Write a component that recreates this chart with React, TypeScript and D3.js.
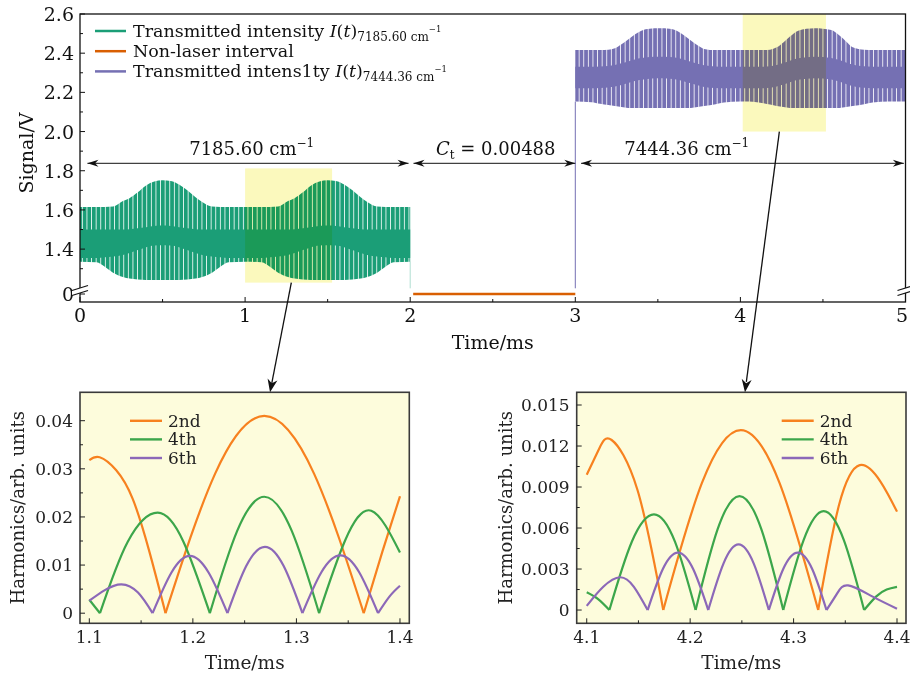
import React from 'react';
import * as d3 from 'd3';

const FONT = '"DejaVu Serif", serif';

// ---------------- Top panel data ----------------
const topXTicks = [0, 1, 2, 3, 4, 5];
const topXMinor = [0.5, 1.5, 2.5, 3.5, 4.5];
const topYTicks = [0, 1.4, 1.6, 1.8, 2.0, 2.2, 2.4, 2.6];
const topYTickLabels = ['0', '1.4', '1.6', '1.8', '2.0', '2.2', '2.4', '2.6'];
const topYMinor = [1.3, 1.5, 1.7, 1.9, 2.1, 2.3, 2.5];

// Transmitted intensity at 7185.60 cm-1 (envelopes of the fast modulation)
const greenTime = [0, 0.1, 0.15, 0.2, 0.26, 0.3, 0.35, 0.4, 0.45, 0.5, 0.55, 0.6, 0.65, 0.7, 0.74, 0.8, 0.85, 0.9, 1.0,
  1.1, 1.15, 1.2, 1.26, 1.3, 1.35, 1.4, 1.45, 1.5, 1.55, 1.6, 1.65, 1.7, 1.74, 1.8, 1.85, 1.9, 2.0];
const greenOuterTop = [1.615, 1.615, 1.615, 1.617, 1.645, 1.66, 1.69, 1.725, 1.745, 1.752, 1.748, 1.73, 1.70, 1.665, 1.64, 1.617, 1.615, 1.615, 1.615,
  1.615, 1.615, 1.617, 1.645, 1.66, 1.69, 1.725, 1.745, 1.752, 1.748, 1.73, 1.70, 1.665, 1.64, 1.617, 1.615, 1.615, 1.615];
const greenCoreTop = [1.5, 1.5, 1.5, 1.5, 1.5, 1.502, 1.506, 1.512, 1.518, 1.52, 1.518, 1.512, 1.506, 1.502, 1.5, 1.5, 1.5, 1.5, 1.5,
  1.5, 1.5, 1.5, 1.5, 1.502, 1.506, 1.512, 1.518, 1.52, 1.518, 1.512, 1.506, 1.502, 1.5, 1.5, 1.5, 1.5, 1.5];
const greenCoreBottom = [1.355, 1.355, 1.358, 1.362, 1.37, 1.38, 1.395, 1.41, 1.418, 1.42, 1.418, 1.41, 1.395, 1.38, 1.37, 1.362, 1.358, 1.355, 1.355,
  1.355, 1.358, 1.362, 1.37, 1.38, 1.395, 1.41, 1.418, 1.42, 1.418, 1.41, 1.395, 1.38, 1.37, 1.362, 1.358, 1.355, 1.355];
const greenOuterBottom = [1.336, 1.333, 1.31, 1.28, 1.258, 1.25, 1.245, 1.243, 1.243, 1.243, 1.243, 1.243, 1.245, 1.25, 1.258, 1.28, 1.31, 1.333, 1.336,
  1.333, 1.31, 1.28, 1.258, 1.25, 1.245, 1.243, 1.243, 1.243, 1.243, 1.243, 1.245, 1.25, 1.258, 1.28, 1.31, 1.333, 1.336];

// Transmitted intensity at 7444.36 cm-1
const purpleTime = [3.0, 3.1, 3.15, 3.2, 3.24, 3.28, 3.32, 3.36, 3.4, 3.45, 3.51, 3.57, 3.62, 3.66, 3.7, 3.74, 3.78, 3.85, 3.9,
  4.0, 4.05, 4.1, 4.14, 4.18, 4.22, 4.26, 4.3, 4.35, 4.45, 4.55, 4.6, 4.64, 4.68, 4.75, 4.8, 4.9, 5.0];
const purpleOuterTop = [2.416, 2.416, 2.416, 2.418, 2.425, 2.445, 2.47, 2.495, 2.515, 2.525, 2.527, 2.525, 2.512, 2.49, 2.465, 2.44, 2.422, 2.416, 2.416,
  2.416, 2.416, 2.416, 2.416, 2.418, 2.43, 2.455, 2.485, 2.515, 2.527, 2.518, 2.49, 2.46, 2.43, 2.417, 2.416, 2.416, 2.416];
const purpleCoreTop = [2.331, 2.331, 2.332, 2.335, 2.34, 2.348, 2.358, 2.368, 2.375, 2.38, 2.382, 2.38, 2.375, 2.366, 2.356, 2.346, 2.338, 2.332, 2.331,
  2.331, 2.331, 2.331, 2.331, 2.333, 2.34, 2.35, 2.362, 2.374, 2.382, 2.376, 2.365, 2.353, 2.342, 2.333, 2.331, 2.331, 2.331];
const purpleCoreBottom = [2.221, 2.221, 2.222, 2.225, 2.23, 2.238, 2.248, 2.258, 2.265, 2.27, 2.272, 2.27, 2.265, 2.256, 2.246, 2.236, 2.228, 2.222, 2.221,
  2.221, 2.221, 2.221, 2.221, 2.223, 2.23, 2.24, 2.252, 2.264, 2.272, 2.266, 2.255, 2.243, 2.232, 2.223, 2.221, 2.221, 2.221];
const purpleOuterBottom = [2.153, 2.15, 2.142, 2.135, 2.13, 2.125, 2.12, 2.12, 2.12, 2.12, 2.12, 2.12, 2.12, 2.12, 2.12, 2.125, 2.13, 2.14, 2.148,
  2.153, 2.153, 2.15, 2.145, 2.138, 2.13, 2.125, 2.12, 2.12, 2.12, 2.12, 2.12, 2.125, 2.13, 2.14, 2.148, 2.153, 2.153];

// Non-laser interval
const orangeTime = [2.018, 3.0];
const orangeValue = [0, 0];

// switching edges
const greenEdge = [[2.0, 1.336], [2.0, 1.2]];
const purpleEdge = [[3.0, 1.2], [3.0, 2.153]];

// dimension arrows
const spanStart = [0.045, 2.02, 3.035];
const spanEnd = [1.99, 3.0, 4.99];
const spanLabelT = [1.04, 2.518, 3.675];
const spanLevel = 1.838;

// highlight boxes [t0, t1, v0, v1]
const greenBox = [1.0, 1.527, 1.229, 1.812];
const purpleBox = [4.014, 4.518, 2.0, 2.6];

// ---------------- Bottom panels data ----------------
const leftXTicks = [1.1, 1.2, 1.3, 1.4];
const leftXMinor = [1.15, 1.25, 1.35];
const leftYTicks = [0, 0.01, 0.02, 0.03, 0.04];
const leftYTickLabels = ['0', '0.01', '0.02', '0.03', '0.04'];
const leftYMinor = [0.005, 0.015, 0.025, 0.035];

const rightXTicks = [4.1, 4.2, 4.3, 4.4];
const rightXMinor = [4.15, 4.25, 4.35];
const rightYTicks = [0, 0.003, 0.006, 0.009, 0.012, 0.015];
const rightYTickLabels = ['0', '0.003', '0.006', '0.009', '0.012', '0.015'];
const rightYMinor = [0.0015, 0.0045, 0.0075, 0.0105, 0.0135];

const harmonicNames = ['2nd', '4th', '6th'];

const left2nd = [[1.100, 0.0318], [1.110, 0.0324], [1.126, 0.0297], [1.142, 0.0237], [1.158, 0.0128], [1.1736, 0],
  [1.2215, 0.029], [1.269, 0.041], [1.317, 0.029], [1.365, 0], [1.383, 0.0128], [1.400, 0.0243]];
const left4th = [[1.100, 0.0028], [1.1103, 0], [1.137, 0.0148], [1.166, 0.0209], [1.191, 0.0148], [1.2164, 0],
  [1.2428, 0.0171], [1.269, 0.0242], [1.2955, 0.0171], [1.3219, 0], [1.347, 0.0151], [1.3723, 0.0213], [1.400, 0.0126]];
const left6th = [[1.100, 0.0026], [1.115, 0.0048], [1.131, 0.0060], [1.147, 0.0043], [1.1611, 0],
  [1.1792, 0.0084], [1.197, 0.0119], [1.2153, 0.0084], [1.2334, 0],
  [1.2515, 0.0098], [1.2696, 0.0138], [1.2877, 0.0098], [1.3058, 0],
  [1.3241, 0.0085], [1.3424, 0.0120], [1.3606, 0.0085], [1.3788, 0], [1.390, 0.0035], [1.400, 0.0057]];

const right2nd = [[4.100, 0.0099], [4.112, 0.0118], [4.1241, 0.01244], [4.149, 0.0088], [4.174, 0],
  [4.2114, 0.0093], [4.249, 0.01317], [4.2864, 0.0093], [4.3238, 0],
  [4.344, 0.0077], [4.364, 0.0106], [4.384, 0.0094], [4.400, 0.0072]];
const right4th = [[4.100, 0.0013], [4.111, 0.0008], [4.1219, 0], [4.1436, 0.0050], [4.165, 0.0070], [4.1853, 0.0050], [4.2053, 0],
  [4.2265, 0.0059], [4.2477, 0.00834], [4.2689, 0.0059], [4.29, 0],
  [4.3096, 0.0051], [4.3291, 0.00724], [4.3487, 0.0051], [4.3682, 0], [4.380, 0.0010], [4.390, 0.0015], [4.400, 0.0017]];
const right6th = [[4.100, 0.0003], [4.116, 0.0017], [4.1322, 0.0024], [4.1456, 0.0017], [4.1589, 0],
  [4.1736, 0.0030], [4.1882, 0.0042], [4.2029, 0.0030], [4.2175, 0],
  [4.2322, 0.0034], [4.2468, 0.0048], [4.2615, 0.0034], [4.2761, 0],
  [4.29, 0.0030], [4.304, 0.0042], [4.318, 0.0030], [4.3318, 0],
  [4.342, 0.0012], [4.3527, 0.0018], [4.376, 0.0010], [4.400, 0.0001]];

// zoom arrows: [t on top axis, t on panel axis]
const leftArrowT = [1.28, 1.2745];
const rightArrowT = [4.236, 4.253];

// ---------------- styles ----------------
const GREEN = '#1b9e77';
const ORANGE = '#d95f02';
const PURPLE = '#7570b3';
const H_COLORS = ['#f7811f', '#3ca64b', '#8c68b8'];
const PANEL_BG = '#fdfcdc';

function splitArches(pts: number[][]) {
  const segs: number[][][] = [];
  let cur: number[][] = [];
  pts.forEach((p) => {
    cur.push(p);
    if (p[1] === 0 && cur.length > 1) {
      segs.push(cur);
      cur = [p];
    }
  });
  if (cur.length > 1) segs.push(cur);
  return segs;
}

function arrowHead(x1: number, y1: number, x2: number, y2: number, len = 11, half = 4) {
  const a = Math.atan2(y2 - y1, x2 - x1);
  const ux = Math.cos(a), uy = Math.sin(a);
  const px = -uy, py = ux;
  const bx = x2 - ux * len, by = y2 - uy * len;
  const nx = x2 - ux * len * 0.7, ny = y2 - uy * len * 0.7;
  return `M${x2},${y2}L${bx + px * half},${by + py * half}L${nx},${ny}L${bx - px * half},${by - py * half}Z`;
}

function HarmPanel(props: {
  x0: number; x1: number; y0: number; y1: number;
  xDomain: number[]; yDomain: number[];
  xTicks: number[]; xMinor: number[]; yTicks: number[]; yLabels: string[]; yMinor: number[];
  series: number[][][]; legendX: number; labelX: number;
}) {
  const { x0, x1, y0, y1 } = props;
  const x = d3.scaleLinear().domain(props.xDomain).range([x0, x1]);
  const y = d3.scaleLinear().domain(props.yDomain).range([y1, y0]);
  const line = d3.line<number[]>().x((d) => x(d[0])).y((d) => y(d[1])).curve(d3.curveNatural);
  return (
    <g>
      <rect x={x0} y={y0} width={x1 - x0} height={y1 - y0} fill={PANEL_BG} />
      {props.series.map((s, i) => (
        <g key={i}>
          {splitArches(s).map((seg, j) => (
            <path key={j} d={line(seg) || ''} fill="none" stroke={H_COLORS[i]} strokeWidth={2.2} strokeLinejoin="round" />
          ))}
        </g>
      ))}
      <rect x={x0} y={y0} width={x1 - x0} height={y1 - y0} fill="none" stroke="#3a3a3a" strokeWidth={1.6} />
      {props.xTicks.map((t, i) => (
        <g key={'xt' + i}>
          <line x1={x(t)} x2={x(t)} y1={y1} y2={y1 - 5} stroke="#222" strokeWidth={1} />
          <text x={x(t)} y={y1 + 20} fontSize={17} textAnchor="middle" fill="#222">{t.toFixed(1)}</text>
        </g>
      ))}
      {props.xMinor.map((t, i) => (
        <line key={'xm' + i} x1={x(t)} x2={x(t)} y1={y1} y2={y1 - 3} stroke="#222" strokeWidth={1} />
      ))}
      {props.yTicks.map((v, i) => (
        <g key={'yt' + i}>
          <line x1={x0} x2={x0 + 5} y1={y(v)} y2={y(v)} stroke="#222" strokeWidth={1} />
          <text x={x0 - 7} y={y(v) + 6} fontSize={17} textAnchor="end" fill="#222">{props.yLabels[i]}</text>
        </g>
      ))}
      {props.yMinor.map((v, i) => (
        <line key={'ym' + i} x1={x0} x2={x0 + 3} y1={y(v)} y2={y(v)} stroke="#222" strokeWidth={1} />
      ))}
      <text x={(x0 + x1) / 2} y={y1 + 46} fontSize={18.5} textAnchor="middle" fill="#222">Time/ms</text>
      <text transform={`translate(${props.labelX},${(y0 + y1) / 2}) rotate(-90)`} fontSize={18} textAnchor="middle" fill="#222">Harmonics/arb. units</text>
      {harmonicNames.map((n, i) => (
        <g key={'lg' + i}>
          <line x1={props.legendX} x2={props.legendX + 32} y1={y0 + 28.5 + i * 18.6} y2={y0 + 28.5 + i * 18.6} stroke={H_COLORS[i]} strokeWidth={2.4} />
          <text x={props.legendX + 38} y={y0 + 34.5 + i * 18.6} fontSize={17} fill="#222">{n}</text>
        </g>
      ))}
    </g>
  );
}

export default function App() {
  const xTop = d3.scaleLinear().domain([0, 5]).range([80, 905.5]);
  const yTop = d3.scaleLinear().domain([0, 1.2, 2.6]).range([294, 288.3, 14]);
  const FRAME_TOP = 14, FRAME_BOTTOM = 302, FRAME_LEFT = 80, FRAME_RIGHT = 905.5;

  const band = (lo: number[], hi: number[], ts: number[]) =>
    d3.area<number>()
      .x((_, i) => xTop(ts[i]))
      .y0((_, i) => yTop(lo[i]))
      .y1((_, i) => yTop(hi[i]))
      .curve(d3.curveMonotoneX)(ts) || '';

  const lineTop = d3.line<number[]>().x((d) => xTop(d[0])).y((d) => yTop(d[1]));

  // bottom panel geometry
  const PT = 392.3, PB = 623.3;
  const L = { x0: 80, x1: 409.3, xd: [1.091, 1.409], yd: [-0.0021, 0.0459] };
  const R = { x0: 576.7, x1: 906, xd: [4.0903, 4.4087], yd: [-0.00097, 0.01593] };
  const xL = d3.scaleLinear().domain(L.xd).range([L.x0, L.x1]);
  const xR = d3.scaleLinear().domain(R.xd).range([R.x0, R.x1]);

  const arrows = [
    { sx: xTop(leftArrowT[0]), sy: yTop(greenBox[2]), ex: xL(leftArrowT[1]), ey: PT },
    { sx: xTop(rightArrowT[0]), sy: yTop(purpleBox[2]), ex: xR(rightArrowT[1]), ey: PT },
  ];

  const breakMark = (cx: number, cy: number) => (
    <g>
      <polygon points={`${cx - 8},${cy + 0.5} ${cx + 8},${cy - 4.5} ${cx + 8},${cy + 0.5} ${cx - 8},${cy + 5.5}`} fill="#fff" />
      <line x1={cx - 8} y1={cy + 0.5} x2={cx + 8} y2={cy - 4.5} stroke="#111" strokeWidth={1.2} />
      <line x1={cx - 8} y1={cy + 5.5} x2={cx + 8} y2={cy + 0.5} stroke="#111" strokeWidth={1.2} />
    </g>
  );

  return (
    <svg width={910} height={675} style={{ position: 'absolute', left: 0, top: 0, background: '#fff' }} fontFamily={FONT}>
      <defs>
        <pattern id="gStripe" patternUnits="userSpaceOnUse" width={4.6} height={400}>
          <rect x={0} y={0} width={3.8} height={400} fill={GREEN} />
        </pattern>
        <pattern id="pStripe" patternUnits="userSpaceOnUse" width={4.6} height={400}>
          <rect x={0} y={0} width={3.8} height={400} fill={PURPLE} />
        </pattern>
      </defs>
      <rect x={0} y={0} width={910} height={675} fill="#fff" />

      {/* ---------- top panel data ---------- */}
      <path d={band(greenOuterBottom, greenOuterTop, greenTime)} fill="url(#gStripe)" />
      <path d={band(greenCoreBottom, greenCoreTop, greenTime)} fill={GREEN} />
      <path d={lineTop(greenEdge) || ''} stroke={GREEN} strokeOpacity={0.35} strokeWidth={1} fill="none" />
      <path d={band(purpleOuterBottom, purpleOuterTop, purpleTime)} fill="url(#pStripe)" />
      <path d={band(purpleCoreBottom, purpleCoreTop, purpleTime)} fill={PURPLE} />
      <path d={lineTop(purpleEdge) || ''} stroke={PURPLE} strokeWidth={1} fill="none" />
      <path d={lineTop(orangeTime.map((t, i) => [t, orangeValue[i]])) || ''} stroke={ORANGE} strokeWidth={2.5} fill="none" />

      {/* highlight boxes */}
      {[greenBox, purpleBox].map((b, i) => (
        <rect key={i} x={xTop(b[0])} y={yTop(b[3])} width={xTop(b[1]) - xTop(b[0])} height={yTop(b[2]) - yTop(b[3])}
          fill="#fbf9bd" style={{ mixBlendMode: 'multiply' }} />
      ))}

      {/* frame */}
      <rect x={FRAME_LEFT} y={FRAME_TOP} width={FRAME_RIGHT - FRAME_LEFT} height={FRAME_BOTTOM - FRAME_TOP} fill="none" stroke="#111" strokeWidth={1.3} />
      {topXTicks.map((t, i) => (
        <g key={'tx' + i}>
          <line x1={xTop(t)} x2={xTop(t)} y1={FRAME_BOTTOM} y2={FRAME_BOTTOM - 5} stroke="#111" />
          <text x={Math.min(xTop(t), 902)} y={FRAME_BOTTOM + 20} fontSize={19} textAnchor="middle" fill="#111">{t}</text>
        </g>
      ))}
      {topXMinor.map((t, i) => (
        <line key={'txm' + i} x1={xTop(t)} x2={xTop(t)} y1={FRAME_BOTTOM} y2={FRAME_BOTTOM - 3} stroke="#111" />
      ))}
      {topYTicks.map((v, i) => (
        <g key={'ty' + i}>
          <line x1={FRAME_LEFT} x2={FRAME_LEFT + 5} y1={yTop(v)} y2={yTop(v)} stroke="#111" />
          <text x={FRAME_LEFT - 6} y={yTop(v) + 7} fontSize={19} textAnchor="end" fill="#111">{topYTickLabels[i]}</text>
        </g>
      ))}
      {topYMinor.map((v, i) => (
        <line key={'tym' + i} x1={FRAME_LEFT} x2={FRAME_LEFT + 3} y1={yTop(v)} y2={yTop(v)} stroke="#111" />
      ))}
      {breakMark(FRAME_LEFT, 290)}
      {breakMark(FRAME_RIGHT, 290)}

      <text x={(FRAME_LEFT + FRAME_RIGHT) / 2} y={FRAME_BOTTOM + 47} fontSize={19} textAnchor="middle" fill="#111">Time/ms</text>
      <text transform={`translate(33,153) rotate(-90)`} fontSize={19} textAnchor="middle" fill="#111">Signal/V</text>

      {/* legend */}
      {[GREEN, ORANGE, PURPLE].map((c, i) => (
        <line key={'ll' + i} x1={95} x2={126} y1={31 + i * 20.2} y2={31 + i * 20.2} stroke={c} strokeWidth={2.5} />
      ))}
      <text x={133} y={37} fontSize={17.5} fill="#111">
        Transmitted intensity <tspan fontStyle="italic">I</tspan>(<tspan fontStyle="italic">t</tspan>)
        <tspan fontSize={12} dy={4}>7185.60 cm</tspan><tspan fontSize={8.5} dy={-9}>−1</tspan>
      </text>
      <text x={133} y={57.2} fontSize={17.5} fill="#111">Non-laser interval</text>
      <text x={133} y={77.4} fontSize={17.5} fill="#111">
        Transmitted intens1ty <tspan fontStyle="italic">I</tspan>(<tspan fontStyle="italic">t</tspan>)
        <tspan fontSize={12} dy={4}>7444.36 cm</tspan><tspan fontSize={8.5} dy={-9}>−1</tspan>
      </text>

      {/* dimension arrows */}
      {spanStart.map((s, i) => {
        const xa = xTop(s), xb = xTop(spanEnd[i]), yy = yTop(spanLevel);
        return (
          <g key={'sp' + i}>
            <line x1={xa} x2={xb} y1={yy} y2={yy} stroke="#111" strokeWidth={1} />
            <path d={arrowHead(xb, yy, xa, yy, 11, 3.5)} fill="#111" />
            <path d={arrowHead(xa, yy, xb, yy, 11, 3.5)} fill="#111" />
          </g>
        );
      })}
      <text x={xTop(spanLabelT[0])} y={155} fontSize={18} textAnchor="middle" fill="#111">
        7185.60 cm<tspan fontSize={12} dy={-8}>−1</tspan>
      </text>
      <text x={xTop(spanLabelT[1])} y={155} fontSize={18} textAnchor="middle" fill="#111">
        <tspan fontStyle="italic">C</tspan><tspan fontSize={12} dy={4}>t</tspan><tspan dy={-4}> = 0.00488</tspan>
      </text>
      <text x={xTop(spanLabelT[2])} y={155} fontSize={18} textAnchor="middle" fill="#111">
        7444.36 cm<tspan fontSize={12} dy={-8}>−1</tspan>
      </text>

      {/* ---------- bottom panels ---------- */}
      <HarmPanel x0={L.x0} x1={L.x1} y0={PT} y1={PB} xDomain={L.xd} yDomain={L.yd}
        xTicks={leftXTicks} xMinor={leftXMinor} yTicks={leftYTicks} yLabels={leftYTickLabels} yMinor={leftYMinor}
        series={[left2nd, left4th, left6th]} legendX={130} labelX={24} />
      <HarmPanel x0={R.x0} x1={R.x1} y0={PT} y1={PB} xDomain={R.xd} yDomain={R.yd}
        xTicks={rightXTicks} xMinor={rightXMinor} yTicks={rightYTicks} yLabels={rightYTickLabels} yMinor={rightYMinor}
        series={[right2nd, right4th, right6th]} legendX={781.7} labelX={512} />

      {/* zoom arrows */}
      {arrows.map((a, i) => (
        <g key={'ar' + i}>
          <line x1={a.sx} y1={a.sy} x2={a.sx + (a.ex - a.sx) * 0.96} y2={a.sy + (a.ey - a.sy) * 0.96} stroke="#111" strokeWidth={1.3} />
          <path d={arrowHead(a.sx, a.sy, a.ex, a.ey, 13, 5)} fill="#111" />
        </g>
      ))}
    </svg>
  );
}
